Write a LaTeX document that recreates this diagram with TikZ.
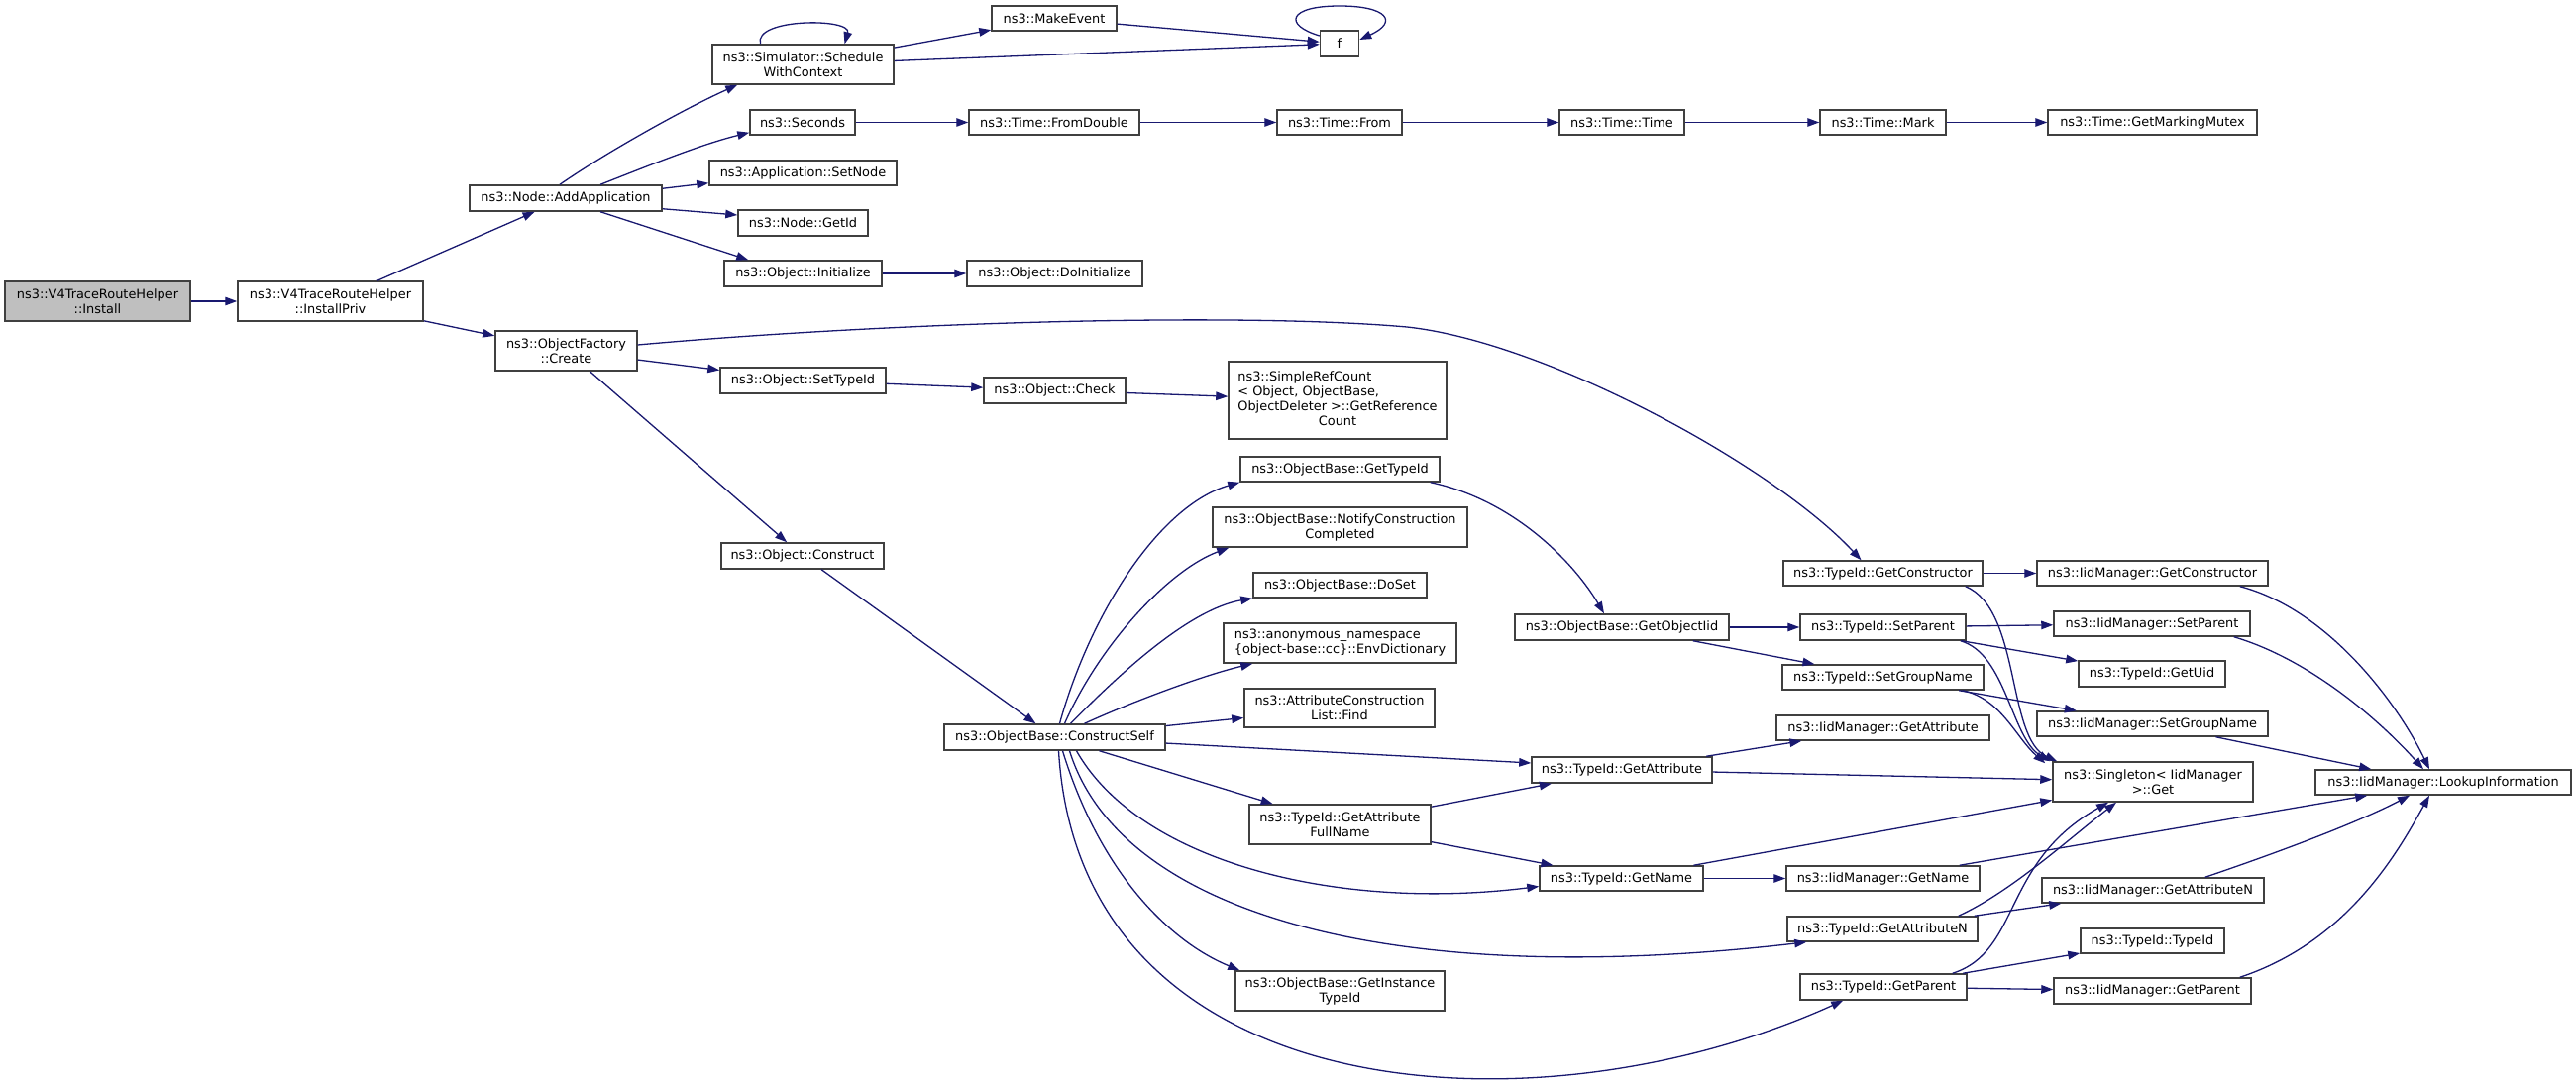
\documentclass[tikz,border=0pt]{standalone}
\usepackage{fontspec}
\setmainfont{DejaVu Sans}
\usetikzlibrary{arrows.meta,calc}
\definecolor{edgec}{HTML}{191970}
\definecolor{boxc}{HTML}{404040}
\definecolor{rootc}{HTML}{BFBFBF}
\begin{document}
\begin{tikzpicture}[x=1pt,y=-1pt,
  fn/.style={draw=boxc, line width=1.5pt, fill=white, inner sep=0pt, align=center,
    font=\fontsize{12.9}{15}\selectfont},
  edge/.style={draw=edgec, line width=1.3pt, -{Triangle[length=12pt,width=8.5pt]}}]
\useasboundingbox (0,0) rectangle (2600,1099);
% nodes
\node[fn, minimum width=187pt, minimum height=40pt, fill=rootc] (install) at (98.5,304) {ns3::V4TraceRouteHelper\\::Install};
\node[fn, minimum width=187pt, minimum height=40pt] (installpriv) at (333.5,304) {ns3::V4TraceRouteHelper\\::InstallPriv};
\node[fn, minimum width=194pt, minimum height=26pt] (addapp) at (571,200) {ns3::Node::AddApplication};
\node[fn, minimum width=143pt, minimum height=40pt] (create) at (571.5,354) {ns3::ObjectFactory\\::Create};
\node[fn, minimum width=183pt, minimum height=40pt] (schedule) at (810.5,65) {ns3::Simulator::Schedule\\WithContext};
\node[fn, minimum width=126pt, minimum height=25pt] (makeevent) at (1064,18.5) {ns3::MakeEvent};
\node[fn, minimum width=39pt, minimum height=26pt] (f) at (1352,44) {f};
\node[fn, minimum width=106pt, minimum height=25pt] (seconds) at (810,123.5) {ns3::Seconds};
\node[fn, minimum width=172pt, minimum height=25pt] (fromdouble) at (1064,123.5) {ns3::Time::FromDouble};
\node[fn, minimum width=126pt, minimum height=25pt] (from) at (1352,123.5) {ns3::Time::From};
\node[fn, minimum width=126pt, minimum height=25pt] (timetime) at (1637,123.5) {ns3::Time::Time};
\node[fn, minimum width=127pt, minimum height=25pt] (mark) at (1900.5,123.5) {ns3::Time::Mark};
\node[fn, minimum width=211pt, minimum height=25pt] (mutex) at (2172.5,123.5) {ns3::Time::GetMarkingMutex};
\node[fn, minimum width=189pt, minimum height=25pt] (setnode) at (810.5,174.5) {ns3::Application::SetNode};
\node[fn, minimum width=131pt, minimum height=26pt] (getid) at (810.5,225) {ns3::Node::GetId};
\node[fn, minimum width=159pt, minimum height=26pt] (initialize) at (810.5,276) {ns3::Object::Initialize};
\node[fn, minimum width=177pt, minimum height=26pt] (doinit) at (1064.5,276) {ns3::Object::DoInitialize};
\node[fn, minimum width=167pt, minimum height=26pt] (settypeid) at (810.5,384) {ns3::Object::SetTypeId};
\node[fn, minimum width=143pt, minimum height=26pt] (check) at (1064.5,394) {ns3::Object::Check};
\node[fn, minimum width=220pt, minimum height=78pt] (simpleref) at (1350,404) {\begin{tabular}{@{}l@{}}ns3::SimpleRefCount\\< Object, ObjectBase,\\ ObjectDeleter >::GetReference\\\multicolumn{1}{@{}c@{}}{Count}\end{tabular}};
\node[fn, minimum width=164pt, minimum height=26pt] (construct) at (810,561) {ns3::Object::Construct};
\node[fn, minimum width=201pt, minimum height=25pt] (gettypeid) at (1352.5,473.5) {ns3::ObjectBase::GetTypeId};
\node[fn, minimum width=257pt, minimum height=40pt] (notify) at (1352.5,532) {ns3::ObjectBase::NotifyConstruction\\Completed};
\node[fn, minimum width=175pt, minimum height=25pt] (doset) at (1352.5,590.5) {ns3::ObjectBase::DoSet};
\node[fn, minimum width=235pt, minimum height=40pt, align=left] (envdict) at (1352.5,649) {ns3::anonymous\_namespace\\\{object-base::cc\}::EnvDictionary};
\node[fn, minimum width=192pt, minimum height=39pt] (find) at (1352,714.5) {ns3::AttributeConstruction\\List::Find};
\node[fn, minimum width=223pt, minimum height=26pt] (constructself) at (1064.5,744) {ns3::ObjectBase::ConstructSelf};
\node[fn, minimum width=201pt, minimum height=25pt] (tgetconstructor) at (1900.5,578.5) {ns3::TypeId::GetConstructor};
\node[fn, minimum width=216pt, minimum height=26pt] (getobjectiid) at (1637,633) {ns3::ObjectBase::GetObjectIid};
\node[fn, minimum width=167pt, minimum height=26pt] (tsetparent) at (1900.5,633) {ns3::TypeId::SetParent};
\node[fn, minimum width=203pt, minimum height=25pt] (tsetgroup) at (1900.5,683.5) {ns3::TypeId::SetGroupName};
\node[fn, minimum width=215pt, minimum height=25pt] (igetattr) at (1900.5,734.5) {ns3::IidManager::GetAttribute};
\node[fn, minimum width=182pt, minimum height=26pt] (tgetattr) at (1637,777) {ns3::TypeId::GetAttribute};
\node[fn, minimum width=202pt, minimum height=40pt] (singleton) at (2173,789) {ns3::Singleton< IidManager\\>::Get};
\node[fn, minimum width=233pt, minimum height=25pt] (igetconstructor) at (2172.5,578.5) {ns3::IidManager::GetConstructor};
\node[fn, minimum width=198pt, minimum height=25pt] (isetparent) at (2172,629.5) {ns3::IidManager::SetParent};
\node[fn, minimum width=148pt, minimum height=26pt] (getuid) at (2172,680) {ns3::TypeId::GetUid};
\node[fn, minimum width=233pt, minimum height=25pt] (isetgroup) at (2172.5,730.5) {ns3::IidManager::SetGroupName};
\node[fn, minimum width=258pt, minimum height=25pt] (lookup) at (2466,789.5) {ns3::IidManager::LookupInformation};
\node[fn, minimum width=183pt, minimum height=40pt] (fullname) at (1352.5,832) {ns3::TypeId::GetAttribute\\FullName};
\node[fn, minimum width=165pt, minimum height=25pt] (tgetname) at (1636.5,886.5) {ns3::TypeId::GetName};
\node[fn, minimum width=195pt, minimum height=25pt] (igetname) at (1900.5,886.5) {ns3::IidManager::GetName};
\node[fn, minimum width=192pt, minimum height=25pt] (tgetattrn) at (1900,937.5) {ns3::TypeId::GetAttributeN};
\node[fn, minimum width=211pt, minimum height=40pt] (instancetypeid) at (1352.5,1000) {ns3::ObjectBase::GetInstance\\TypeId};
\node[fn, minimum width=168pt, minimum height=26pt] (tgetparent) at (1901,996) {ns3::TypeId::GetParent};
\node[fn, minimum width=224pt, minimum height=25pt] (igetattrn) at (2173,898.5) {ns3::IidManager::GetAttributeN};
\node[fn, minimum width=145pt, minimum height=25pt] (typeidtypeid) at (2172.5,949.5) {ns3::TypeId::TypeId};
\node[fn, minimum width=199pt, minimum height=26pt] (igetparent) at (2172.5,1000) {ns3::IidManager::GetParent};
% edges
\draw[edge] (install) -- (installpriv);
\draw[edge] (installpriv) -- (addapp);
\draw[edge] (installpriv) -- (create);
\draw[edge] ($(addapp.north)+(-6,0)$) .. controls (610,155) and (690,110) .. ($(schedule.south west)+(26,0)$);
\draw[edge] ($(addapp.north)+(35,0)$) .. controls (660,165) and (710,145) .. ($(seconds.south west)+(0,-3)$);
\draw[edge] ($(addapp.north east)+(0,4)$) -- ($(setnode.south west)+(0,-3)$);
\draw[edge] ($(addapp.south east)+(0,-3)$) -- ($(getid.west)+(0,-8)$);
\draw[edge] ($(addapp.south)+(35,0)$) -- ($(initialize.north west)+(25,0)$);
\draw[edge] ($(schedule.north)+(-43,0)$) .. controls (760,18) and (860,18) .. ($(schedule.north)+(42,0)$);
\draw[edge] (schedule) -- (makeevent);
\draw[edge] (schedule) -- (f);
\draw[edge] (makeevent) -- (f);
\draw[edge] ($(f.west)+(0,-8)$) .. controls (1295,25) and (1300,6) .. (1352,6) .. controls (1400,6) and (1412,22) .. ($(f.east)+(0,-4)$);
\draw[edge] (seconds) -- (fromdouble);
\draw[edge] (fromdouble) -- (from);
\draw[edge] (from) -- (timetime);
\draw[edge] (timetime) -- (mark);
\draw[edge] (mark) -- (mutex);
\draw[edge] (initialize) -- (doinit);
\draw[edge] ($(create.east)+(0,-6)$) .. controls (900,325) and (1250,315) .. (1420,330) .. controls (1560,345) and (1790,470) .. ($(tgetconstructor.north)+(-22,0)$);
\draw[edge] (create) -- (settypeid);
\draw[edge] (create) -- (construct);
\draw[edge] (settypeid) -- (check);
\draw[edge] (check) -- (simpleref);
\draw[edge] (construct) -- (constructself);
\draw[edge] ($(constructself.north)+(5,0)$) .. controls (1100,620) and (1170,510) .. (gettypeid.south west);
\draw[edge] ($(constructself.north)+(10,0)$) .. controls (1110,650) and (1180,575) .. ($(notify.south west)+(17,0)$);
\draw[edge] ($(constructself.north)+(16,0)$) .. controls (1130,680) and (1200,615) .. (doset.south west);
\draw[edge] ($(constructself.north)+(30,0)$) .. controls (1150,705) and (1220,680) .. ($(envdict.south west)+(30,0)$);
\draw[edge] (constructself) -- ($(find.west)+(0,10)$);
\draw[edge] (constructself) -- ($(tgetattr.west)+(0,-7)$);
\draw[edge] (constructself) -- (fullname);
\draw[edge] ($(constructself.south)+(22,0)$) .. controls (1150,870) and (1350,920) .. ($(tgetname.west)+(0,8)$);
\draw[edge] ($(constructself.south)+(15,0)$) .. controls (1130,920) and (1400,1000) .. ($(tgetattrn.south west)+(20,0)$);
\draw[edge] ($(constructself.south)+(8,0)$) .. controls (1110,880) and (1180,950) .. ($(instancetypeid.north west)+(5,0)$);
\draw[edge] ($(constructself.south)+(4,0)$) .. controls (1090,1120) and (1550,1150) .. ($(tgetparent.south west)+(44,0)$);
\draw[edge] ($(gettypeid.south east)+(-10,0)$) .. controls (1530,505) and (1590,570) .. ($(getobjectiid.north)+(-18,0)$);
\draw[edge] (getobjectiid) -- (tsetparent);
\draw[edge] (getobjectiid) -- (tsetgroup);
\draw[edge] (tgetconstructor) -- (igetconstructor);
\draw[edge] ($(tgetconstructor.south east)+(-18,0)$) .. controls (2040,615) and (2025,745) .. ($(singleton.north west)+(5,0)$);
\draw[edge] (tsetparent) -- (isetparent);
\draw[edge] (tsetparent) -- (getuid);
\draw[edge] ($(tsetparent.south east)+(-6,0)$) .. controls (2025,660) and (2030,745) .. ($(singleton.north west)+(-2,0)$);
\draw[edge] (tsetgroup) -- (isetgroup);
\draw[edge] ($(tsetgroup.south east)+(-22,0)$) .. controls (2020,705) and (2035,745) .. ($(singleton.north west)+(-7,2)$);
\draw[edge] (tgetattr) -- (igetattr);
\draw[edge] (tgetattr) -- (singleton);
\draw[edge] (fullname) -- (tgetattr);
\draw[edge] (fullname) -- (tgetname);
\draw[edge] (tgetname) -- (igetname);
\draw[edge] (tgetname) -- (singleton);
\draw[edge] (tgetattrn) -- (igetattrn);
\draw[edge] ($(tgetattrn.north east)+(-20,0)$) .. controls (2030,900) and (2090,845) .. ($(singleton.south)+(-37,0)$);
\draw[edge] (tgetparent) -- (typeidtypeid);
\draw[edge] (tgetparent) -- (igetparent);
\draw[edge] ($(tgetparent.north east)+(-15,0)$) .. controls (2040,960) and (2020,870) .. ($(singleton.south)+(-45,0)$);
\draw[edge] ($(igetconstructor.south east)+(-29,0)$) .. controls (2350,615) and (2420,710) .. ($(lookup.north)+(-14,0)$);
\draw[edge] ($(isetparent.south east)+(-17,0)$) .. controls (2330,665) and (2400,725) .. ($(lookup.north)+(-20,0)$);
\draw[edge] (isetgroup) -- ($(lookup.north west)+(57,0)$);
\draw[edge] (igetname) -- ($(lookup.south west)+(53,0)$);
\draw[edge] ($(igetattrn.north east)+(-60,0)$) .. controls (2300,860) and (2380,830) .. ($(lookup.south)+(-34,0)$);
\draw[edge] ($(igetparent.north east)+(-12,0)$) .. controls (2370,950) and (2420,860) .. ($(lookup.south)+(-14,0)$);
\end{tikzpicture}
\end{document}
